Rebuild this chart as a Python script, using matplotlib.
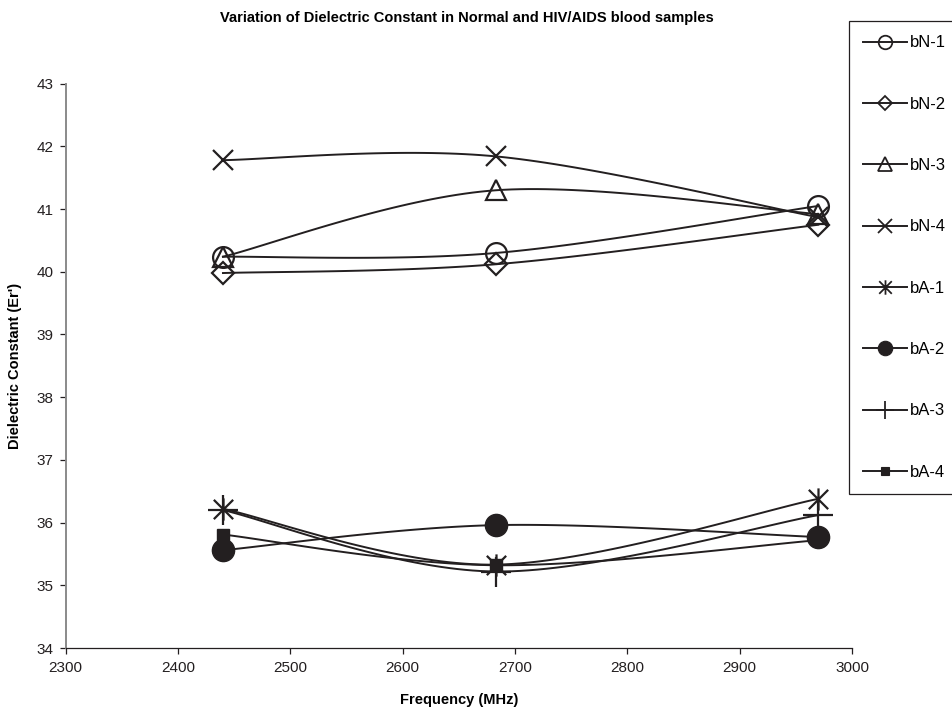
"""Dielectric constant of normal vs HIV/AIDS blood samples across frequency."""

import matplotlib
matplotlib.use("Agg")
import matplotlib.pyplot as plt
import numpy as np
from matplotlib.lines import Line2D
from matplotlib.path import Path

plt.rcParams["font.family"] = ["Liberation Sans", "DejaVu Sans"]

frequency = [2440, 2683, 2970]

bN_1 = [40.24, 40.30, 41.05]
bN_2 = [39.98, 40.12, 40.75]
bN_3 = [40.24, 41.30, 40.92]
bN_4 = [41.78, 41.84, 40.87]
bA_1 = [36.22, 35.33, 36.38]
bA_2 = [35.56, 35.96, 35.77]
bA_3 = [36.20, 35.22, 36.12]
bA_4 = [35.81, 35.32, 35.72]

labels = ["bN-1", "bN-2", "bN-3", "bN-4", "bA-1", "bA-2", "bA-3", "bA-4"]
series = [bN_1, bN_2, bN_3, bN_4, bA_1, bA_2, bA_3, bA_4]

INK = "#231f20"

# Excel-style asterisk: an x with a vertical stroke through it
ASTERISK = Path([(-1, -1), (1, 1), (-1, 1), (1, -1), (0, -1.15), (0, 1.15)],
                [Path.MOVETO, Path.LINETO, Path.MOVETO, Path.LINETO,
                 Path.MOVETO, Path.LINETO])

# marker, size, filled, edge width
STYLES = [
    ("o", 15, False, 1.6),
    ("D", 11, False, 1.6),
    ("^", 15, False, 1.6),
    ("x", 15, False, 1.6),
    (ASTERISK, 16, False, 1.6),
    ("o", 16, True, 1.0),
    ("+", 21, False, 1.6),
    ("s", 8, True, 1.0),
]

XLIM = (2300, 3000)
YLIM = (34, 43)


def smooth(xs, ys, n=40):
    """Excel-style smoothed line (Catmull-Rom Bezier) in axis-fraction space."""
    sx = XLIM[1] - XLIM[0]
    sy = (YLIM[1] - YLIM[0]) * 786 / 564
    p = np.column_stack([(np.asarray(xs) - XLIM[0]) / sx,
                         (np.asarray(ys) - YLIM[0]) / sy])
    pts = []
    for i in range(len(p) - 1):
        p0 = p[max(i - 1, 0)]
        p1, p2 = p[i], p[i + 1]
        p3 = p[min(i + 2, len(p) - 1)]
        c1 = p1 + (p2 - p0) / 6
        c2 = p2 - (p3 - p1) / 6
        t = np.linspace(0, 1, n)[:, None]
        seg = ((1 - t) ** 3 * p1 + 3 * (1 - t) ** 2 * t * c1
               + 3 * (1 - t) * t ** 2 * c2 + t ** 3 * p2)
        pts.append(seg if i == 0 else seg[1:])
    pts = np.vstack(pts)
    return pts[:, 0] * sx + XLIM[0], pts[:, 1] * sy + YLIM[0]


fig = plt.figure(figsize=(9.52, 7.09), dpi=100)
ax = fig.add_axes([0.069, 0.086, 0.826, 0.796])

handles = []
for ys, lab, (mk, ms, filled, mew) in zip(series, labels, STYLES):
    cx, cy = smooth(frequency, ys)
    ax.plot(cx, cy, color=INK, lw=1.4, zorder=2)
    face = INK if filled else "none"
    ax.plot(frequency, ys, ls="none", marker=mk, ms=ms, mfc=face,
            mec=INK, mew=mew, zorder=3)
    handles.append(Line2D([], [], color=INK, lw=1.4, marker=mk,
                          ms=ms * 0.65, mfc=face, mec=INK, mew=mew * 0.8,
                          label=lab))

ax.set_xlim(*XLIM)
ax.set_ylim(*YLIM)
ax.set_xticks(np.arange(2300, 3001, 100))
ax.set_yticks(np.arange(34, 44, 1))
ax.tick_params(direction="out", length=4, width=0.9, colors=INK,
               labelsize=11, pad=5)
for side in ("top", "right"):
    ax.spines[side].set_visible(False)
ax.spines["left"].set_color("#8a8a8a")
ax.spines["left"].set_linewidth(1.4)
ax.spines["bottom"].set_color(INK)
ax.spines["bottom"].set_linewidth(0.9)

ax.set_xlabel("Frequency (MHz)", fontsize=10.5, fontweight="bold",
              labelpad=13)
ax.set_ylabel("Dielectric Constant (Er')", fontsize=10.5, fontweight="bold",
              labelpad=10)
fig.suptitle("Variation of Dielectric Constant in Normal and HIV/AIDS blood samples",
             x=0.49, y=0.985, fontsize=10.5, fontweight="bold")

leg = fig.legend(handles=handles, loc="upper left",
                 bbox_to_anchor=(0.892, 0.97), fontsize=12,
                 handlelength=2.6, handletextpad=0.2, labelspacing=2.78,
                 borderpad=0.85, borderaxespad=0, fancybox=False,
                 framealpha=1, edgecolor=INK)
leg.get_frame().set_linewidth(0.9)

fig.savefig("out.png", dpi=100)
